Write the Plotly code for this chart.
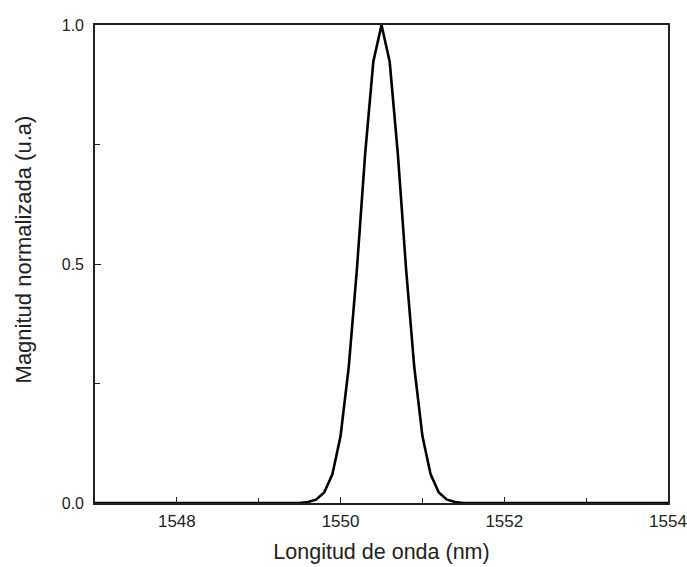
import plotly.graph_objects as go

# Data
wavelength_nm = [1547.0, 1549.5, 1549.6, 1549.7, 1549.8, 1549.9, 1550.0, 1550.1, 1550.2,
                 1550.3, 1550.4, 1550.5, 1550.6, 1550.7, 1550.8, 1550.9, 1551.0,
                 1551.1, 1551.2, 1551.3, 1551.4, 1551.5, 1554.0]
magnitude = [0.0, 0.0, 0.002, 0.007, 0.022, 0.06, 0.14, 0.285, 0.49,
             0.73, 0.923, 1.0, 0.923, 0.73, 0.49, 0.285, 0.14,
             0.06, 0.022, 0.007, 0.002, 0.0, 0.0]

x_major = [1548, 1550, 1552, 1554]
x_minor = [1549, 1551, 1553]
y_major = [0.0, 0.5, 1.0]
y_major_text = ["0.0", "0.5", "1.0"]

font_family = "Liberation Sans, Arial, sans-serif"
ink = "#222"

fig = go.Figure()
fig.add_trace(go.Scatter(x=wavelength_nm, y=magnitude, mode="lines",
                         line=dict(color="black", width=2.6), showlegend=False))

fig.update_layout(
    width=687, height=567,
    margin=dict(l=95, r=19, t=25, b=64, autoexpand=False),
    paper_bgcolor="white", plot_bgcolor="white",
    font=dict(family=font_family, color=ink),
)
fig.update_xaxes(
    range=[1547, 1554], tickvals=x_major, ticktext=[str(v) for v in x_major],
    ticks="inside", ticklen=6, tickwidth=1.2, tickcolor=ink,
    minor=dict(tickvals=x_minor, ticks="inside", ticklen=5, tickwidth=1.2, tickcolor=ink, showgrid=False),
    showline=True, linecolor=ink, linewidth=1.6, mirror=True,
    showgrid=False, zeroline=False, automargin=False,
    tickfont=dict(size=17, family=font_family, color=ink),
    ticklabelstandoff=2,
    title=dict(text="Longitud de onda (nm)", font=dict(size=21.5, family=font_family, color=ink), standoff=14),
)
fig.update_yaxes(
    range=[0, 1], tickvals=y_major, ticktext=y_major_text,
    ticks="inside", ticklen=6, tickwidth=1.2, tickcolor=ink,
    minor=dict(tickvals=[0.25, 0.75], ticks="inside", ticklen=5, tickwidth=1.2, tickcolor=ink, showgrid=False),
    showline=True, linecolor=ink, linewidth=1.6, mirror=True,
    showgrid=False, zeroline=False, automargin=False,
    tickfont=dict(size=16, family=font_family, color=ink),
    ticklabelstandoff=6,
)
fig.add_annotation(text="Magnitud normalizada (u.a)", textangle=-90,
                   xref="paper", yref="paper", x=-0.1252, y=0.531,
                   xanchor="center", yanchor="middle", showarrow=False,
                   font=dict(size=22, family=font_family, color=ink))

fig.write_html("out.html")
